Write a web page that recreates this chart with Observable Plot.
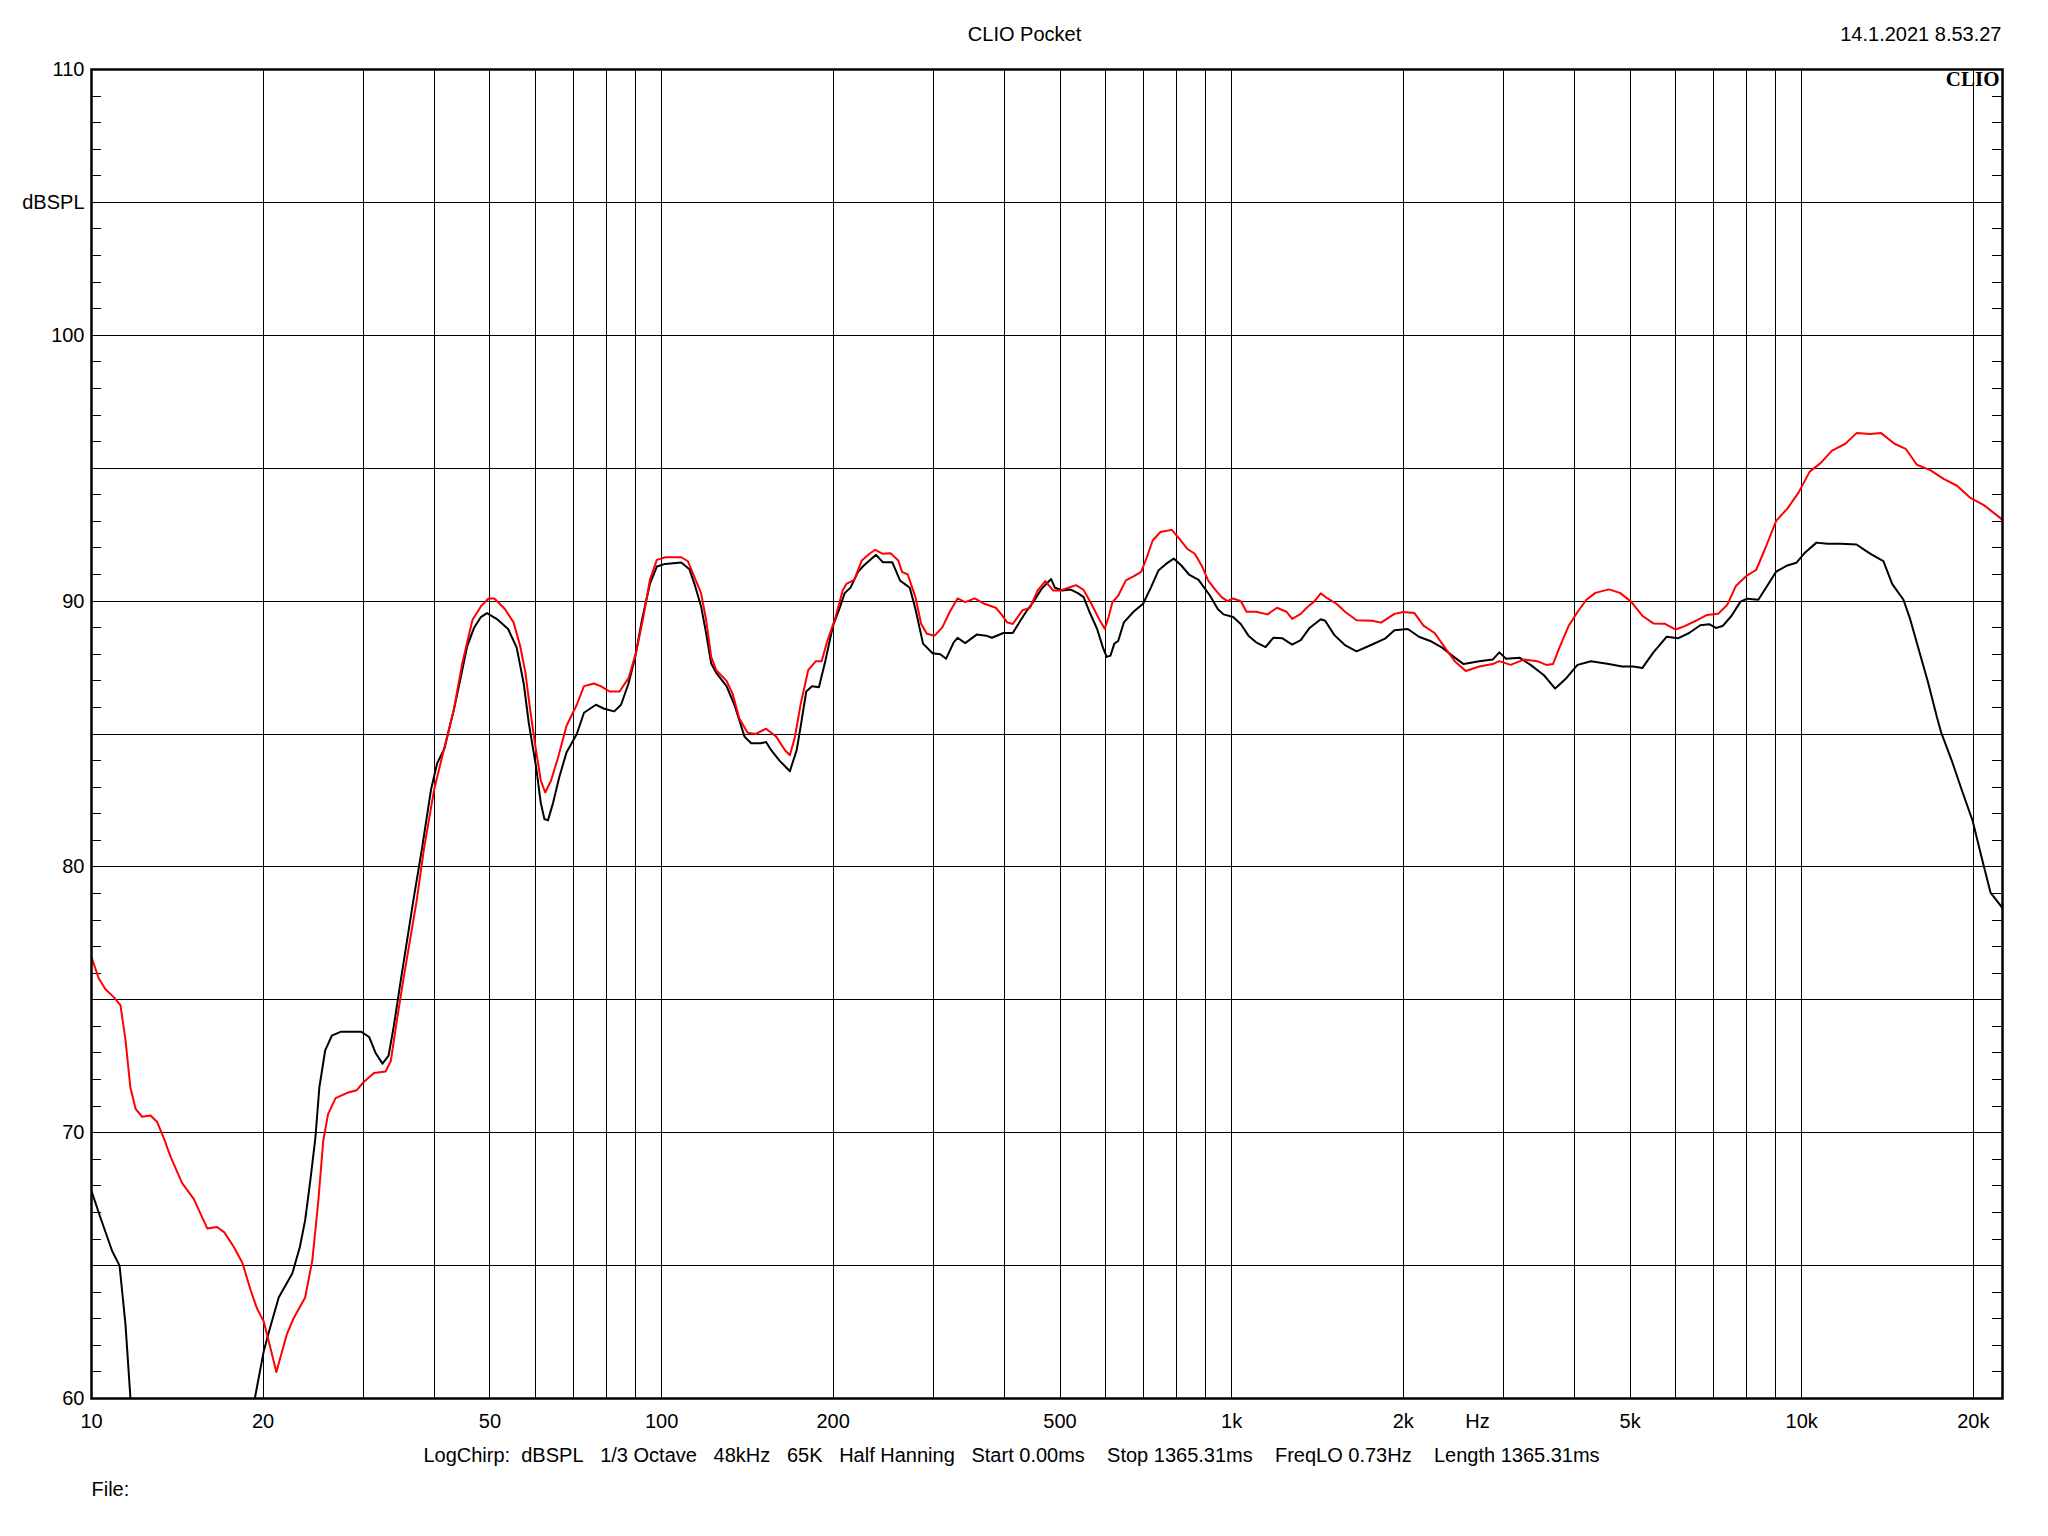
<!DOCTYPE html>
<html><head><meta charset="utf-8">
<script src="https://cdn.jsdelivr.net/npm/d3@7"></script>
<script src="https://cdn.jsdelivr.net/npm/@observablehq/plot@0.6"></script>
<style>
html,body{margin:0;padding:0;background:#fff;}
#chart svg{display:block;}
</style>
</head><body><div id="chart"></div>
<script>
// ---- data (frequency in Hz, level in dB SPL) ----
const redFreq = [10,10.3,10.58,10.94,11.24,11.47,11.7,11.95,12.27,12.69,13.04,13.39,13.76,14.42,15.12,15.96,16.6,17.1,17.77,18.4,19.0,19.5,20.05,20.6,21.1,22.0,22.6,23.7,24.4,25.0,25.5,26.0,26.8,28.1,29.2,30.0,31.3,32.8,33.5,34.4,35.3,37.2,
38.3,39.9,41.6,43.2,44.7,46.6,48.2,49.7,50.9,53.1,55.0,56.5,57.7,58.9,60.2,61.4,62.5,64.0,65.8,68.1,71.0,73.1,76.1,78.2,81.0,84.4,87.5,90.3,92.9,95.4,98.1,101.5,108.3,111.2,114.2,117.3,119.7,122.2,124.7,130,133.3,136.8,141.5,146.3,152.5,158.9,164.5,167.9,171.4,
175.3,180.8,186.5,190.9,195.3,201.5,207.8,211.0,217.7,224.5,231.6,237.0,244.5,252.2,260.1,264.1,270.3,278.8,285.3,292.0,301.2,310.6,320.4,330.5,340.9,354.3,368.2,385.6,394.6,403.8,413.2,429.4,442.9,456.8,471.2,486.0,501.3,517.0,533.3,550.0,567.3,585.2,598.9,608.3,617.8,632.3,652.2,672.7,693.8,710.1,726.8,749.7,785.2,809.9,835.3,861.6,888.6,909.6,938.1,960.2,982.8,1005.9,1037.5,1062.0,1103.9,1155.6,1200.7,1247.5,1276.8,
1322,1358,1395,1433,1473,1527,1583,1656,1764,1828,1930,2001,2093,2170,2270,2375,2462,2575,2719,2870,2948,3085,3256,3437,3563,3661,3761,3899,4043,4191,4346,4587,4799,5020,5251,5493,5746,6011,6232,6519,6820,7134,7398,7669,8023,8318,8622,9019,9436,9871,10327,10802,11300,11928,12478,13173,13782,14547,15219,15920,16806,17738,18726,19767,20868,22226,22500];
const redDb = [76.6,75.8,75.4,75.1,74.8,73.5,71.7,70.9,70.6,70.65,70.4,69.8,69.1,68.1,67.5,66.4,66.45,66.25,65.7,65.1,64.1,63.4,62.9,61.9,61.0,62.4,63.0,63.8,65.2,67.45,69.7,70.7,71.3,71.5,71.6,71.9,72.25,72.3,72.7,74.35,75.85,78.75,
80.68,82.9,84.5,85.9,87.65,89.3,89.8,90.1,90.1,89.7,89.2,88.3,87.3,85.8,84.4,83.25,82.8,83.25,84.1,85.3,86.1,86.8,86.9,86.8,86.6,86.6,87.1,88.1,89.4,90.8,91.55,91.65,91.65,91.5,90.9,90.3,89.3,87.9,87.4,87.0,86.5,85.6,85.05,85.0,85.2,84.9,84.4,84.2,84.9,
86.1,87.4,87.74,87.74,88.5,89.33,90.4,90.65,90.8,91.53,91.78,91.93,91.78,91.8,91.53,91.1,91.0,90.15,89.15,88.77,88.7,89.0,89.6,90.1,89.96,90.1,89.9,89.75,89.5,89.2,89.14,89.65,89.75,90.4,90.75,90.4,90.4,90.5,90.6,90.42,89.9,89.33,88.96,89.4,89.96,90.2,90.78,90.93,91.1,91.65,92.28,92.6,92.68,92.34,91.97,91.78,91.28,90.77,90.4,90.15,90.0,90.1,90.0,89.6,89.6,89.5,89.75,89.6,89.33,
89.52,89.78,89.98,90.29,90.1,89.9,89.59,89.28,89.26,89.19,89.52,89.59,89.55,89.08,88.8,88.2,87.74,87.37,87.54,87.63,87.74,87.6,87.8,87.74,87.6,87.63,88.27,89.06,89.59,90.05,90.31,90.44,90.31,89.98,89.45,89.16,89.15,88.93,89.06,89.26,89.48,89.52,89.85,90.58,90.97,91.17,91.96,93.02,93.48,94.08,94.87,95.2,95.66,95.92,96.32,96.29,96.32,95.92,95.73,95.13,94.93,94.6,94.34,93.88,93.61,93.15,93.05];

const blackFreq = [10,10.37,10.87,11.2,11.47,11.7,12.1,15,19.0,19.34,20.06,20.5,21.3,22.5,23.2,23.7,24.2,24.7,25.1,25.7,26.4,27.4,29.7,30.7,31.5,32.4,33.2,33.9,34.8,36.7,
38.0,39.4,40.4,41.6,43.2,44.4,45.6,46.9,48.2,49.4,51.6,53.8,55.7,57.3,58.5,60.2,61.4,62.3,63.2,64.5,66.2,68.1,71.0,73.1,76.7,79.3,82.6,84.9,87.5,89.9,92.4,95.4,98.1,101.5,108.3,111.9,114.2,117.3,119.7,122.2,124.7,130,134.2,139.8,143.6,149.4,152.5,155.6,161.0,167.9,172.6,
175.3,179.4,183.6,188.8,193.8,199.9,204.6,209.5,214.4,221.1,226.3,231.6,237.8,244.5,254.0,262.1,272.5,278.8,287.5,298.8,308.3,315.5,325.4,330.5,340.9,357.0,371.1,379.8,397.8,413.2,426.1,436.0,449.8,464.0,482.3,489.8,505.1,521.0,537.4,550.0,562.9,580.6,594.2,603.6,613.0,622.6,632.3,647.1,672.7,699.3,721.2,743.9,767.2,791.3,816.1,841.7,875.0,895.6,916.6,945.4,967.6,1005.9,1037.5,1070.1,1103.9,1146.7,1183.1,1227.9,1276.8,
1322,1370,1433,1459,1513,1583,1656,1748,1862,1930,2037,2131,2230,2332,2440,2552,2719,2870,2948,3029,3198,3345,3531,3694,3864,4043,4268,4587,4842,5065,5251,5493,5798,6065,6345,6638,6881,7070,7263,7533,7809,8023,8393,8700,9019,9436,9783,10141,10610,11098,11715,12478,12939,13293,13906,14416,15082,15496,16064,16655,17266,17580,18391,19067,19946,20682,21440,22500];
const blackDb = [67.8,66.8,65.55,65.0,62.8,60.05,56,48,56,60.0,61.8,62.55,63.8,64.7,65.7,66.7,68.2,69.8,71.7,73.1,73.65,73.8,73.8,73.6,73.0,72.6,72.9,74.0,75.6,78.75,
80.7,82.9,83.9,84.45,85.9,87.1,88.3,89.0,89.4,89.55,89.3,88.95,88.25,86.9,85.4,83.8,82.4,81.8,81.75,82.4,83.4,84.3,85.0,85.8,86.1,85.95,85.85,86.1,86.9,87.9,89.3,90.65,91.3,91.4,91.45,91.2,90.65,89.8,88.8,87.65,87.3,86.8,86.1,84.9,84.65,84.65,84.7,84.4,84.0,83.6,84.4,
85.26,86.6,86.8,86.76,87.76,89.08,89.65,90.3,90.5,91.1,91.34,91.53,91.74,91.46,91.46,90.77,90.5,89.7,88.4,88.04,88.0,87.83,88.45,88.62,88.42,88.74,88.7,88.62,88.8,88.8,89.27,89.6,90.0,90.46,90.83,90.5,90.4,90.44,90.3,90.15,89.6,88.96,88.27,87.9,87.95,88.4,88.5,89.2,89.6,89.9,90.5,91.15,91.4,91.6,91.34,91.0,90.8,90.5,90.2,89.7,89.5,89.4,89.14,88.7,88.45,88.27,88.62,88.6,88.36,
88.53,88.99,89.32,89.26,88.73,88.33,88.11,88.33,88.6,88.9,88.95,88.66,88.5,88.27,87.94,87.63,87.74,87.8,88.07,87.83,87.87,87.6,87.21,86.71,87.1,87.6,87.74,87.63,87.54,87.54,87.48,88.07,88.66,88.6,88.8,89.09,89.13,88.99,89.06,89.45,89.98,90.09,90.05,90.58,91.11,91.34,91.44,91.83,92.2,92.16,92.16,92.13,91.9,91.74,91.5,90.64,90.05,89.32,88.13,86.95,85.63,85.03,83.91,82.92,81.73,80.35,79.03,78.45];

// ---- axes / grid ----
const xTickValues = [10,20,50,100,200,500,1000,2000,5000,10000,20000];
const xTickLabels = ["10","20","50","100","200","500","1k","2k","5k","10k","20k"];
const unitLabelFreq = [2700];
const yTickValues = [60,70,80,90,100,105,110];
const yTickLabels = ["60","70","80","90","100","dBSPL","110"];
const gridFreqs = [20,30,40,50,60,70,80,90,100,200,300,400,500,600,700,800,900,1000,2000,3000,4000,5000,6000,7000,8000,9000,10000,20000];
const gridDb = [65,70,75,80,85,90,95,100,105];
const minorDb = [61,62,63,64,66,67,68,69,71,72,73,74,76,77,78,79,81,82,83,84,86,87,88,89,91,92,93,94,96,97,98,99,101,102,103,104,106,107,108,109];

const titleText = "CLIO Pocket";
const dateText = "14.1.2021 8.53.27";
const logoText = "CLIO";
const footerText = ["LogChirp:", "dBSPL", "1/3 Octave", "48kHz", "65K", "Half Hanning", "Start 0.00ms", "Stop 1365.31ms", "FreqLO 0.73Hz", "Length 1365.31ms"];
const fileText = "File:";

const red = redFreq.map((f, i) => ({f, db: redDb[i]}));
const black = blackFreq.map((f, i) => ({f, db: blackDb[i]}));
const xTicks = xTickValues.map((v, i) => ({v, label: xTickLabels[i]}));
const yTicks = yTickValues.map((v, i) => ({v, label: yTickLabels[i]}));

const W = 2048, H = 1536, mL = 91, mR = 46, mT = 69, mB = 138;
const innerW = W - mL - mR;
const sans = '"Liberation Sans", Arial, sans-serif';
const sp = "\u00A0";
const footer = footerText[0] + sp + sp + footerText.slice(1, 7).join(sp + sp + sp) + sp + sp + sp + sp + footerText.slice(7).join(sp + sp + sp + sp);

const chart = Plot.plot({
  width: W, height: H,
  marginLeft: mL, marginRight: mR, marginTop: mT, marginBottom: mB,
  x: {type: "log", domain: [10, 22500], axis: null},
  y: {domain: [60, 110], axis: null},
  style: {fontFamily: sans, fontSize: "20px", color: "#000", background: "#fff"},
  marks: [
    Plot.ruleX(gridFreqs, {stroke: "#000", strokeWidth: 1, shapeRendering: "crispEdges"}),
    Plot.ruleY(gridDb, {stroke: "#000", strokeWidth: 1, shapeRendering: "crispEdges"}),
    Plot.ruleY(minorDb, {stroke: "#000", strokeWidth: 1, insetRight: innerW - 10, shapeRendering: "crispEdges"}),
    Plot.ruleY(minorDb, {stroke: "#000", strokeWidth: 1, insetLeft: innerW - 10, shapeRendering: "crispEdges"}),
    Plot.line(black, {x: "f", y: "db", stroke: "#000", strokeWidth: 2, clip: true}),
    Plot.line(red, {x: "f", y: "db", stroke: "#ff0000", strokeWidth: 2, clip: true}),
    Plot.frame({stroke: "#000", strokeWidth: 2.5}),
    Plot.text(xTicks, {x: "v", text: "label", frameAnchor: "bottom", dy: 23, lineAnchor: "middle", textAnchor: "middle", fill: "#000"}),
    Plot.text(["Hz"], {x: unitLabelFreq, frameAnchor: "bottom", dy: 23, lineAnchor: "middle", textAnchor: "middle", fill: "#000"}),
    Plot.text(yTicks, {y: "v", text: "label", frameAnchor: "left", dx: -7, lineAnchor: "middle", textAnchor: "end", fill: "#000"}),
    Plot.text([titleText], {frameAnchor: "top", dx: -22.5, dy: -35, lineAnchor: "middle", textAnchor: "middle", fill: "#000"}),
    Plot.text([dateText], {frameAnchor: "top-right", dx: -1, dy: -35, lineAnchor: "middle", textAnchor: "end", fill: "#000"}),
    Plot.text([logoText], {frameAnchor: "top-right", dx: -3, dy: 10, lineAnchor: "middle", textAnchor: "end", fill: "#000", fontFamily: '"Liberation Serif", "DejaVu Serif", serif', fontWeight: "bold", fontSize: 21}),
    Plot.text([footer], {frameAnchor: "bottom", dx: -35.5, dy: 57, lineAnchor: "middle", textAnchor: "middle", fill: "#000"}),
    Plot.text([fileText], {frameAnchor: "bottom-left", dy: 91, lineAnchor: "middle", textAnchor: "start", fill: "#000"})
  ]
});
document.getElementById("chart").appendChild(chart);
</script>
</body></html>
